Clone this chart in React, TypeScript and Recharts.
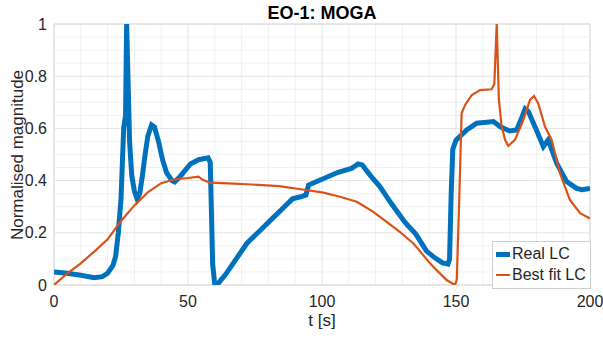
import { LineChart, Line, XAxis, YAxis, ReferenceLine, ReferenceArea, Label } from "recharts"

const realT = [
  0, 5, 10, 15, 18, 20, 22, 23, 24, 25, 26, 26.7, 27.1, 27.6, 28.2, 29, 30, 31, 32, 33, 34, 35, 36.4, 37.5, 39,
  40.5, 42, 44, 45, 47, 49, 51, 54, 57.5, 58.3, 58.7, 59.2, 60, 61, 64, 68, 72, 77, 82, 86, 89, 92, 94, 95, 100,
  106, 111, 113.5, 115, 118, 121.6, 126, 131, 135, 139, 142, 145, 147, 147.6, 148.2, 148.8, 150, 154, 157.7, 164,
  166.4, 170, 172.6, 174.5, 175.8, 177, 180, 182.6, 184.4, 187.6, 191.3, 195, 197, 200,
]
const realV = [
  0.05, 0.045, 0.037, 0.028, 0.032, 0.045, 0.075, 0.11, 0.2, 0.33, 0.6, 0.65, 1.0, 0.8, 0.55, 0.42, 0.36, 0.33,
  0.35, 0.42, 0.5, 0.57, 0.613, 0.605, 0.55, 0.48, 0.43, 0.4, 0.395, 0.415, 0.44, 0.465, 0.48, 0.487, 0.47, 0.3,
  0.08, 0.0, 0.003, 0.04, 0.1, 0.16, 0.21, 0.26, 0.3, 0.33, 0.338, 0.345, 0.383, 0.405, 0.432, 0.447, 0.464, 0.46,
  0.42, 0.377, 0.31, 0.24, 0.195, 0.13, 0.105, 0.085, 0.08, 0.1, 0.35, 0.52, 0.555, 0.594, 0.62, 0.626, 0.607,
  0.59, 0.594, 0.64, 0.675, 0.665, 0.594, 0.53, 0.556, 0.466, 0.396, 0.37, 0.365, 0.37,
]

const fitT = [
  0, 5, 10, 15, 20, 25, 30, 35, 40, 45, 50, 53.9, 55.7, 58.2, 65, 72, 84, 94, 100.5, 106.7, 113, 119, 126.6, 129,
  134, 135.3, 140.3, 141.5, 146.5, 149.6, 150.3, 151.2, 152.1, 153.4, 155.9, 159, 163.3, 164.3, 165.2, 166, 167,
  168.3, 169.5, 172, 175.1, 177.6, 179.1, 180.7, 183.2, 185.7, 188.8, 192.5, 196.3, 200,
]
const fitV = [
  0, 0.045, 0.083, 0.128, 0.175, 0.245, 0.305, 0.355, 0.39, 0.405, 0.41, 0.415, 0.402, 0.392, 0.389, 0.386, 0.379,
  0.364, 0.354, 0.338, 0.319, 0.281, 0.223, 0.204, 0.16, 0.145, 0.083, 0.07, 0.019, 0.0, 0.02, 0.326, 0.658, 0.69,
  0.728, 0.747, 0.75, 0.77, 1.0, 0.71, 0.61, 0.556, 0.533, 0.556, 0.632, 0.709, 0.724, 0.696, 0.607, 0.556, 0.428,
  0.326, 0.275, 0.255,
]

const xTicks = [0, 50, 100, 150, 200]
const yTicks = [0, 0.2, 0.4, 0.6, 0.8, 1]
const xMinor = [10, 20, 30, 40, 60, 70, 80, 90, 110, 120, 130, 140, 160, 170, 180, 190]
const yMinor = [0.05, 0.1, 0.15, 0.25, 0.3, 0.35, 0.45, 0.5, 0.55, 0.65, 0.7, 0.75, 0.85, 0.9, 0.95]

const legendItems = [
  { name: "Real LC", color: "#0072BD", width: 5 },
  { name: "Best fit LC", color: "#D95319", width: 2.5 },
]

const realData = realT.map((t, i) => ({ t, v: realV[i] }))
const fitData = fitT.map((t, i) => ({ t, v: fitV[i] }))

const FONT = "'Liberation Sans', Arial, Helvetica, sans-serif"
const TXT = "#262626"

export default function App() {
  return (
    <div style={{ position: "absolute", left: 0, top: 0, width: 603, height: 338, background: "#fff", fontFamily: FONT }}>
      <div
        style={{
          position: "absolute",
          left: 54,
          top: 3,
          width: 536,
          textAlign: "center",
          fontSize: 18,
          fontWeight: "bold",
          lineHeight: "20px",
          color: "#000",
        }}
      >
        EO-1: MOGA
      </div>
      <LineChart width={603} height={338} margin={{ top: 24, right: 13, left: 0, bottom: 0 }}>
        {xMinor.map((x) => (
          <ReferenceLine key={"xm" + x} x={x} stroke="#f1f1f1" strokeWidth={1} />
        ))}
        {yMinor.map((y) => (
          <ReferenceLine key={"ym" + y} y={y} stroke="#f1f1f1" strokeWidth={1} />
        ))}
        {xTicks.map((x) => (
          <ReferenceLine key={"xM" + x} x={x} stroke="#e4e4e4" strokeWidth={1} />
        ))}
        {yTicks.map((y) => (
          <ReferenceLine key={"yM" + y} y={y} stroke="#e4e4e4" strokeWidth={1} />
        ))}
        <ReferenceArea x1={0} x2={200} y1={0} y2={1} fill="none" stroke="#cfcfcf" strokeWidth={1} />
        <XAxis
          type="number"
          dataKey="t"
          domain={[0, 200]}
          ticks={xTicks}
          allowDataOverflow
          height={53}
          axisLine={false}
          tickLine={false}
          tickSize={6}
          tickMargin={5}
          tick={{ fill: TXT, fontSize: 16, fontFamily: FONT }}
        >
          <Label value="t [s]" position="insideBottom" offset={12} fill={TXT} fontSize={17} fontFamily={FONT} />
        </XAxis>
        <YAxis
          type="number"
          domain={[0, 1]}
          ticks={yTicks}
          allowDataOverflow
          width={54}
          axisLine={false}
          tickLine={false}
          tickSize={5}
          tickMargin={2}
          tick={{ fill: TXT, fontSize: 16, fontFamily: FONT }}
        >
          <Label
            content={() => (
              <text
                x={17}
                y={155}
                transform="rotate(-90 17 155)"
                textAnchor="middle"
                dominantBaseline="central"
                fill={TXT}
                fontSize={17}
                fontFamily={FONT}
              >
                Normalised magnitude
              </text>
            )}
          />
        </YAxis>
        <Line
          data={realData}
          dataKey="v"
          name="Real LC"
          type="linear"
          stroke="#0072BD"
          strokeWidth={5}
          dot={false}
          isAnimationActive={false}
        />
        <Line
          data={fitData}
          dataKey="v"
          name="Best fit LC"
          type="linear"
          stroke="#D95319"
          strokeWidth={2.2}
          dot={false}
          isAnimationActive={false}
        />
      </LineChart>
      <div
        style={{
          position: "absolute",
          left: 492,
          top: 241,
          width: 97,
          height: 45,
          border: "1px solid #cfcfcf",
          background: "#fff",
          boxSizing: "content-box",
          paddingTop: 1,
        }}
      >
        {legendItems.map((it) => (
          <div key={it.name} style={{ display: "flex", alignItems: "center", height: 20, marginTop: 1 }}>
            <div style={{ width: 14, height: it.width, background: it.color, marginLeft: 3, marginRight: 2 }} />
            <span style={{ fontSize: 16, color: TXT, whiteSpace: "nowrap" }}>{it.name}</span>
          </div>
        ))}
      </div>
    </div>
  )
}
